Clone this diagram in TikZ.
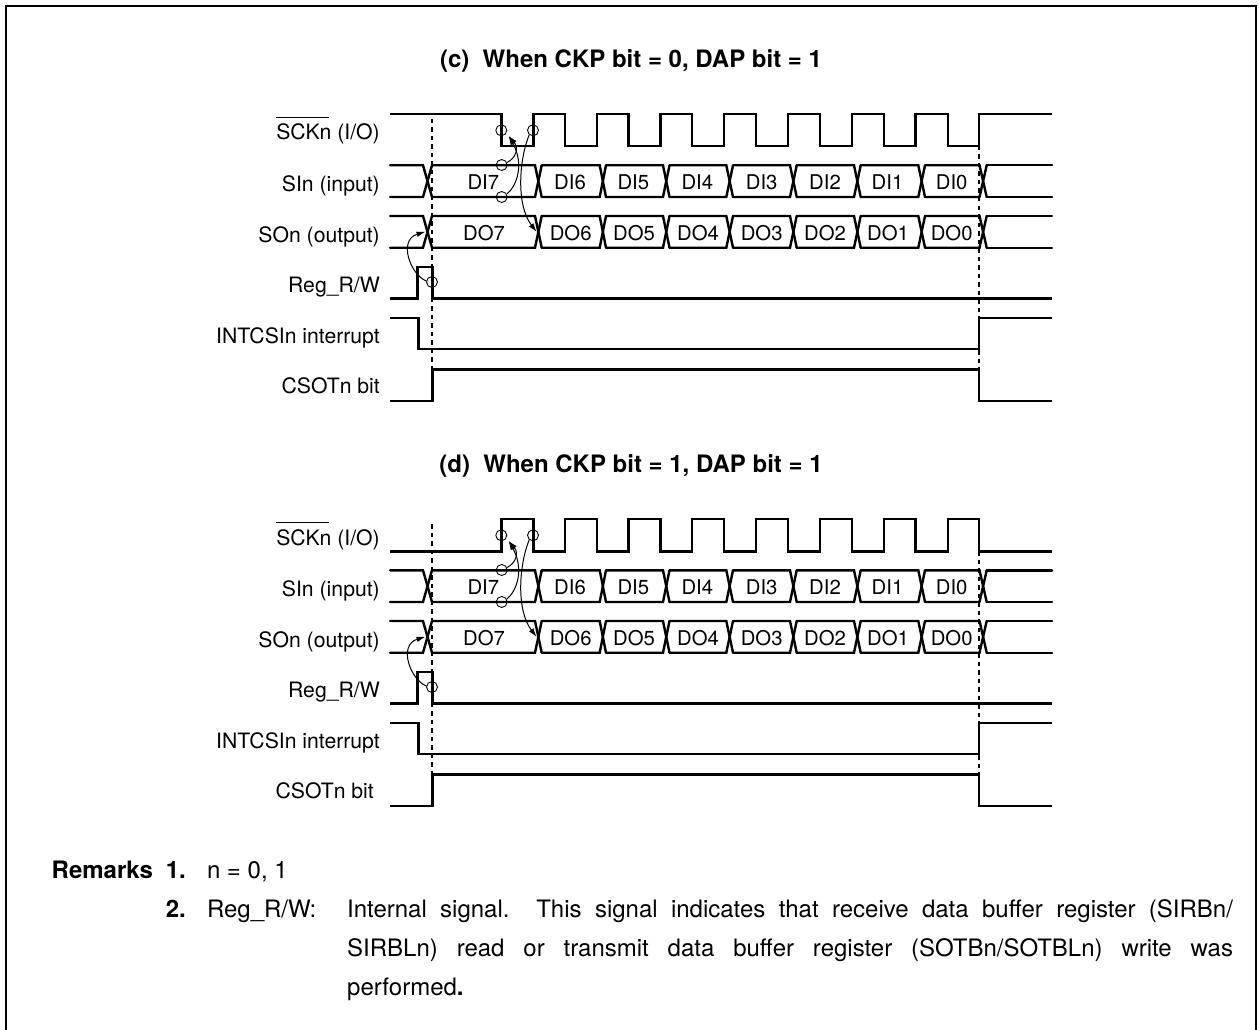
\documentclass[tikz,border=0pt]{standalone}
\usepackage{fontspec}
\setmainfont{TeX Gyre Heros}
\usetikzlibrary{arrows.meta}
\tikzset{
  sig/.style={line width=2.4pt,line join=miter},
  busline/.style={line width=2.4pt,line cap=round,line join=miter},
  guide/.style={line width=1.3pt,dash pattern=on 4.5pt off 4pt},
  frameline/.style={line width=2.6pt},
  ring/.style={circle,draw,line width=0.9pt,minimum size=11pt,inner sep=0pt},
  cause/.style={line width=1pt,-{Latex[length=9pt,width=5.5pt]}},
  lab/.style={anchor=base east,inner sep=0pt,font=\fontsize{21.2}{24}\selectfont},
  datum/.style={anchor=base,inner sep=0pt,font=\fontsize{20.3}{24}\selectfont},
  headline/.style={anchor=base,inner sep=0pt,font=\fontsize{24}{28}\bfseries\selectfont},
  note/.style={anchor=base west,inner sep=0pt,font=\fontsize{24}{28}\selectfont}
}
\newcommand{\busrow}[2]{%
  \foreach \a/\b/\e in {390/423/432,432/535/541.7,541.7/599.7/606,606/663/669.5,669.5/726.3/733,733/790/796.7,796.7/854/860.7,860.7/918.3/925,925/979.5/986.7}{
    \draw[busline] (\a,#1) -- (\b,#1) -- (\e,#2);
    \draw[busline] (\a,#2) -- (\b,#2) -- (\e,#1);
  }
  \draw[busline] (986.7,#1) -- (1052,#1);
  \draw[busline] (986.7,#2) -- (1052,#2);
}
\newcommand{\sckrow}[2]{%
  \draw[sig] (390,#1) \foreach \a/\b in {501.3/533.3,565/597,628.5/660.5,692/724,756/788,820/852,884/915.5,948/979}{
    -- (\a,#1) -- (\a,#2) -- (\b,#2) -- (\b,#1)} -- (1052,#1);
}
\newcommand{\panel}[5]{% prefix, dy, sck hi, sck lo, csot label right edge
  \begin{scope}[shift={(0,#2)}]
    \draw[guide] (432,119) -- (432,369);
    \draw[guide] (979,146) -- (979,369);
    \sckrow{#3}{#4}
    \busrow{165.3}{197}
    \busrow{216}{247.7}
    \draw[sig] (390,298.3) -- (417.3,298.3) -- (417.3,267) -- (432.3,267) -- (432.3,298.3) -- (1052,298.3);
    \draw[sig] (390,317.7) -- (418.3,317.7) -- (418.3,349) -- (979,349) -- (979,317.7) -- (1052,317.7);
    \draw[sig] (390,401) -- (432.5,401) -- (432.5,369.3) -- (979,369.3) -- (979,401) -- (1052,401);
    \node[lab] (#1l1) at (380,140) {\makebox[0pt][l]{\rule[22pt]{53pt}{0.8pt}}SCKn (I/O)};
    \node[lab] (#1l2) at (380,191.5) {SIn (input)};
    \node[lab] (#1l3) at (380,242.3) {SOn (output)};
    \node[lab] (#1l4) at (380,292.2) {Reg\_R/W};
    \node[lab] (#1l5) at (380,343) {INTCSIn interrupt};
    \node[lab] (#1l6) at (#5,393.8) {CSOTn bit};
    \foreach \t/\x [count=\i] in {DI7/483.3,DI6/570,DI5/633.3,DI4/697.3,DI3/761.7,DI2/825,DI1/887.5,DI0/951.7}
      \node[datum] (#1di\i) at (\x,189.3) {\t};
    \foreach \t/\x [count=\i] in {DO7/484,DO6/570.7,DO5/634,DO4/698,DO3/761.7,DO2/825,DO1/888,DO0/951.7}
      \node[datum] (#1do\i) at (\x,240.7) {\t};
    \node[ring] (#1r1) at (501.3,130.3) {};
    \node[ring] (#1r2) at (533,130.3) {};
    \node[ring] (#1r3) at (501.7,165) {};
    \node[ring] (#1r4) at (501.7,197) {};
    \node[ring] (#1r5) at (432,282) {};
    \coordinate (#1t1) at (508.6,136);
    \coordinate (#1t2) at (536.7,232);
    \coordinate (#1t3) at (425.5,231.7);
    \draw[cause] (#1r3.25) .. controls (516,158) and (519,148) .. (#1t1);
    \draw[cause] (#1r4.30) .. controls (516,187) and (525,165) .. (#1t1);
    \draw[cause] (#1r2.230) .. controls (519,160) and (516,205) .. (#1t2);
    \draw[cause] (#1r5.170) .. controls (410,274) and (398,240) .. (#1t3);
  \end{scope}
}
\begin{document}
\begin{tikzpicture}[x=1pt,y=-1pt]
\useasboundingbox (0,0) rectangle (1259,1030);
\draw[frameline] (6,1030) -- (6,6) -- (1256,6) -- (1256,1030);
\node[headline] (tc) at (631,67.5) {(c)\ \ When CKP bit = 0, DAP bit = 1};
\node[headline] (td) at (631,472.5) {(d)\ \ When CKP bit = 1, DAP bit = 1};
\panel{c}{0}{114}{146.3}{380}
\panel{d}{405}{146.3}{114}{374}
\node[note,font=\fontsize{24}{28}\bfseries\selectfont] (rem) at (51.5,878) {Remarks};
\node[note,font=\fontsize{24}{28}\bfseries\selectfont] (n1) at (165.7,878) {1.};
\node[note] (t1) at (206.8,878) {n = 0, 1};
\node[note,font=\fontsize{24}{28}\bfseries\selectfont] (n2) at (165.7,917) {2.};
\node[note] (t2) at (206.8,917) {Reg\_R/W:};
\node[note] (t3) at (347,917) {\parbox[t]{885.8pt}{\hbadness=10000\hfuzz=50pt\baselineskip=39.3pt
Internal signal.\ \ This signal indicates that receive data buffer register (SIRBn/\linebreak
SIRBLn) read or transmit data buffer register (SOTBn/SOTBLn) write was\linebreak
performed{\bfseries .}}};
\end{tikzpicture}
\end{document}
